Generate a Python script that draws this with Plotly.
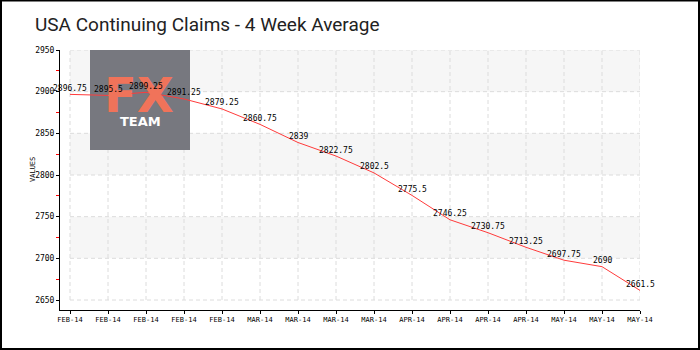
import plotly.graph_objects as go

# Weekly 4-week average of continuing claims (thousands)
claims = [2896.75, 2895.5, 2899.25, 2891.25, 2879.25, 2860.75, 2839, 2822.75,
          2802.5, 2775.5, 2746.25, 2730.75, 2713.25, 2697.75, 2690, 2661.5]
month_labels = ["FEB-14", "FEB-14", "FEB-14", "FEB-14", "FEB-14",
                "MAR-14", "MAR-14", "MAR-14", "MAR-14",
                "APR-14", "APR-14", "APR-14", "APR-14",
                "MAY-14", "MAY-14", "MAY-14"]
y_ticks = [2650, 2700, 2750, 2800, 2850, 2900, 2950]
y_minor = [2675, 2725, 2775, 2825, 2875, 2925]

idx = list(range(len(claims)))
W, H = 700, 350
L, R, T, B = 60, 60, 50, 40
plot_w, plot_h = W - L - R, H - T - B
x_step_px = (plot_w - 10) / (len(idx) - 1)          # pixels between weeks
y_px_per_unit = 250.0 / (y_ticks[-1] - y_ticks[0])  # pixels per claim unit
x_lo = -10 / x_step_px
y_lo = y_ticks[0] - 10 / y_px_per_unit

def px_x(p):
    return (p - L) / plot_w

def px_y(p):
    return (H - B - p) / plot_h

def dx(p):
    # pixel column -> week index
    return (p - L - 10) / x_step_px

def dy(p):
    # pixel row -> claim value
    return y_ticks[0] + (H - B - 10 - p) / y_px_per_unit

small = dict(family="DejaVu Sans Mono, monospace", size=8, color="#000")

fig = go.Figure()
fig.add_trace(go.Scatter(
    x=idx, y=claims, mode="lines",
    line=dict(color="#ff3b3b", width=1),
    hoverinfo="skip", showlegend=False,
))

shapes = []
# alternating horizontal bands
for i in range(len(y_ticks) - 1):
    if i % 2 == 1:
        shapes.append(dict(type="rect", xref="x", yref="y", x0=idx[0], x1=idx[-1],
                           y0=y_ticks[i], y1=y_ticks[i + 1], line_width=0,
                           fillcolor="#f6f6f6", layer="below"))
# dashed grid
for v in y_ticks:
    shapes.append(dict(type="line", xref="x", yref="y", x0=idx[0], x1=idx[-1], y0=v, y1=v,
                       line=dict(color="#dcdcdc", width=1, dash="4px,3px"), layer="below"))
for i in idx:
    shapes.append(dict(type="line", xref="x", yref="y", x0=i, x1=i, y0=y_ticks[0], y1=y_ticks[-1],
                       line=dict(color="#dcdcdc", width=1, dash="4px,3px"), layer="below"))
# watermark box
shapes.append(dict(type="rect", xref="x", yref="y",
                   x0=dx(90), x1=dx(190), y0=dy(150), y1=dy(50),
                   line_width=0, fillcolor="#77787f", layer="below"))
# outer frame
shapes.append(dict(type="rect", xref="paper", yref="paper",
                   x0=px_x(1), x1=px_x(699), y0=px_y(349), y1=px_y(0.5),
                   line=dict(color="#000", width=2), fillcolor="rgba(0,0,0,0)", layer="above"))

# watermark text first so the value labels sit on top of it
annotations = [
    dict(x=dx(139), y=dy(95), xref="x", yref="y", text="<b>FX</b>", showarrow=False,
         xanchor="center", yanchor="middle",
         font=dict(family="DejaVu Sans, sans-serif", size=48, color="#f0735a")),
    dict(x=dx(140), y=dy(121), xref="x", yref="y", text="<b>TEAM</b>", showarrow=False,
         xanchor="center", yanchor="middle",
         font=dict(family="DejaVu Sans, sans-serif", size=13, color="#ffffff")),
    dict(x=px_x(33), y=px_y(170), xref="paper", yref="paper", text="VALUES", textangle=-90,
         showarrow=False, xanchor="center", yanchor="middle",
         font=dict(family="DejaVu Sans Mono, monospace", size=7, color="#000")),
]
for i, v in zip(idx, claims):
    annotations.append(dict(x=i, y=v, xref="x", yref="y", text=f"{v:g}",
                            showarrow=False, yshift=6, xanchor="center", yanchor="middle",
                            font=small))

fig.update_layout(
    width=W, height=H,
    margin=dict(l=L, r=R, t=T, b=B, pad=0),
    paper_bgcolor="#ffffff", plot_bgcolor="rgba(0,0,0,0)",
    title=dict(text="USA Continuing Claims - 4 Week Average", x=35 / W, xanchor="left",
               xref="container", yref="container", y=1 - 24 / H, yanchor="middle",
               font=dict(family="Roboto, sans-serif", size=19, color="#222")),
    shapes=shapes, annotations=annotations,
    xaxis=dict(range=[x_lo, idx[-1]], tickmode="array", tickvals=idx, ticktext=month_labels,
               showgrid=False, zeroline=False, showline=True, linecolor="#000", linewidth=1,
               ticks="outside", ticklen=3, tickcolor="#000",
               tickfont=dict(family="DejaVu Sans Mono, monospace", size=7, color="#000")),
    yaxis=dict(range=[y_lo, y_ticks[-1]], tickmode="array", tickvals=y_ticks,
               showgrid=False, zeroline=False, showline=True, linecolor="#000", linewidth=1,
               ticks="outside", ticklen=3, tickcolor="#000",
               tickfont=dict(family="DejaVu Sans Mono, monospace", size=8, color="#000"),
               minor=dict(tickmode="array", tickvals=y_minor, ticks="outside", ticklen=3,
                          tickcolor="#ff0000", showgrid=False)),
)

fig.write_html("out.html")
